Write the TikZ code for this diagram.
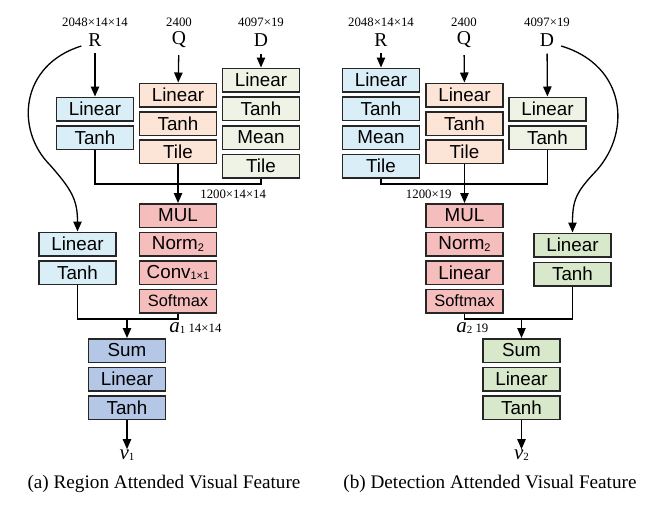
\documentclass[tikz,border=0pt]{standalone}
\usepackage{fontspec}
\setmainfont{Liberation Serif}
\setsansfont{Liberation Sans}
\usepackage{xcolor}
\usetikzlibrary{arrows.meta}

\definecolor{regblue}{HTML}{DAEEF7}
\definecolor{qpeach}{HTML}{FCE4D6}
\definecolor{detgray}{HTML}{EFF3E6}
\definecolor{attpink}{HTML}{F6BDBD}
\definecolor{outblue}{HTML}{B4C7E7}
\definecolor{detgreen}{HTML}{D8E9CB}

\newcommand{\lowsub}[1]{\raisebox{-0.6pt}{\fontsize{5.5}{6}\selectfont #1}}

\begin{document}
\begin{tikzpicture}[x=0.5pt, y=-0.5pt,
    box/.style={draw=black!85, line width=0.75pt, minimum width=38.5pt, minimum height=11.75pt,
      inner sep=0pt, font=\sffamily\fontsize{9.4}{10}\selectfont},
    smallbox/.style={box, font=\sffamily\fontsize{8.2}{9}\selectfont},
    arr/.style={-{Triangle[width=4.2pt,length=5pt]}, line width=0.65pt},
    link/.style={line width=0.65pt},
    dim/.style={inner sep=0pt, font=\fontsize{6.4}{7}\selectfont},
    var/.style={font=\fontsize{9.8}{10}\selectfont},
    outvar/.style={inner sep=0pt, font=\fontsize{10.5}{11}\selectfont\itshape},
    caption/.style={inner sep=0pt, font=\fontsize{9.6}{11}\selectfont}]

  \useasboundingbox (0,0) rectangle (661,509);

  % (a) inputs
  \node[dim] (lRdim) at (95,22) {2048×14×14};
  \node[dim] (lQdim) at (179,22) {2400};
  \node[dim] (lDdim) at (261,22) {4097×19};
  \node[var] (lR) at (95,40) {R};
  \node[var] (lQ) at (179,40) {Q};
  \node[var] (lD) at (261,40) {D};

  % (a) region branch
  \node[box, fill=regblue] (lRLin) at (95,109) {Linear};
  \node[box, fill=regblue] (lRTanh) at (95,137.5) {Tanh};

  % (a) question branch
  \node[box, fill=qpeach] (lQLin) at (178,95) {Linear};
  \node[box, fill=qpeach] (lQTanh) at (178,123.5) {Tanh};
  \node[box, fill=qpeach] (lQTile) at (178,151.5) {Tile};

  % (a) detection branch
  \node[box, fill=detgray] (lDLin) at (261,80) {Linear};
  \node[box, fill=detgray] (lDTanh) at (261,108.5) {Tanh};
  \node[box, fill=detgray] (lDMean) at (261,137.5) {Mean};
  \node[box, fill=detgray] (lDTile) at (261,166) {Tile};

  % (a) attention
  \node[box, fill=attpink] (lMul) at (178,215.5) {MUL};
  \node[box, fill=attpink] (lNorm) at (178,244) {Norm\lowsub{2}};
  \node[box, fill=attpink] (lConv) at (178,272.5) {Conv\lowsub{1×1}};
  \node[smallbox, fill=attpink] (lSoft) at (178,301) {Softmax};

  % (a) second region branch
  \node[box, fill=regblue] (lLin) at (77.5,244) {Linear};
  \node[box, fill=regblue] (lTanh) at (77.5,272.5) {Tanh};

  % (a) output
  \node[box, fill=outblue] (lSum) at (127,350.5) {Sum};
  \node[box, fill=outblue] (lOLin) at (127,379) {Linear};
  \node[box, fill=outblue] (lOTanh) at (127,407.5) {Tanh};
  \node[outvar] (lv) at (127,455) {v\lowsub{\upshape 1}};

  \node[dim, anchor=west] (lMuldim) at (200,194) {1200×14×14};
  \node[dim, anchor=west] (lAdim) at (169,328)
    {{\fontsize{10.5}{11}\selectfont\itshape a}\lowsub{1}\ 14×14};

  % (a) connectors
  \draw[arr] (lR) -- (lRLin);
  \draw[arr] (lQ) -- (lQLin);
  \draw[arr] (lD) -- (lDLin);
  \coordinate (lMerge) at (178,184);
  \draw[link] (lRTanh.south) |- (lMerge) -| (lDTile.south);
  \draw[arr] (lQTile) -- (lMul);
  \draw[link, arr] ([yshift=-3pt]lR.west) .. controls (20,65) and (15,130) .. (50,165)
    .. controls (72,190) and (77.5,200) .. (lLin.north);
  \coordinate (lJoin) at (127,319);
  \draw[link] (lTanh.south) |- (lJoin) -| (lSoft.south);
  \draw[arr] (lJoin) -- (lSum);
  \draw[arr] (lOTanh) -- (lv);

  \node[caption] (lcap) at (164,484) {(a) Region Attended Visual Feature};

  % (b) inputs
  \node[dim] (rRdim) at (381,22) {2048×14×14};
  \node[dim] (rQdim) at (464,22) {2400};
  \node[dim] (rDdim) at (547,22) {4097×19};
  \node[var] (rR) at (381,40) {R};
  \node[var] (rQ) at (464,40) {Q};
  \node[var] (rD) at (547,40) {D};

  % (b) region branch
  \node[box, fill=regblue] (rRLin) at (381,80) {Linear};
  \node[box, fill=regblue] (rRTanh) at (381,108.5) {Tanh};
  \node[box, fill=regblue] (rRMean) at (381,137.5) {Mean};
  \node[box, fill=regblue] (rRTile) at (381,166) {Tile};

  % (b) question branch
  \node[box, fill=qpeach] (rQLin) at (464.5,95) {Linear};
  \node[box, fill=qpeach] (rQTanh) at (464.5,123.5) {Tanh};
  \node[box, fill=qpeach] (rQTile) at (464.5,151.5) {Tile};

  % (b) detection branch
  \node[box, fill=detgray] (rDLin) at (547.5,109) {Linear};
  \node[box, fill=detgray] (rDTanh) at (547.5,137.5) {Tanh};

  % (b) attention
  \node[box, fill=attpink] (rMul) at (464.5,215.5) {MUL};
  \node[box, fill=attpink] (rNorm) at (464.5,244) {Norm\lowsub{2}};
  \node[box, fill=attpink] (rALin) at (464.5,272.5) {Linear};
  \node[smallbox, fill=attpink] (rSoft) at (464.5,301) {Softmax};

  % (b) second detection branch
  \node[box, fill=detgreen] (rLin) at (572.5,245) {Linear};
  \node[box, fill=detgreen] (rTanh) at (572.5,274) {Tanh};

  % (b) output
  \node[box, fill=detgreen] (rSum) at (521.5,350.5) {Sum};
  \node[box, fill=detgreen] (rOLin) at (521.5,379) {Linear};
  \node[box, fill=detgreen] (rOTanh) at (521.5,407.5) {Tanh};
  \node[outvar] (rv) at (521.5,455) {v\lowsub{\upshape 2}};

  \node[dim, anchor=east] (rMuldim) at (452,194) {1200×19};
  \node[dim, anchor=west] (rAdim) at (456,328)
    {{\fontsize{10.5}{11}\selectfont\itshape a}\lowsub{2}\ 19};

  % (b) connectors
  \draw[arr] (rR) -- (rRLin);
  \draw[arr] (rQ) -- (rQLin);
  \draw[arr] (rD) -- (rDLin);
  \coordinate (rMerge) at (464.5,184);
  \draw[link] (rRTile.south) |- (rMerge) -| (rDTanh.south);
  \draw[arr] (rQTile) -- (rMul);
  \draw[link, arr] ([yshift=-3pt]rD.east) .. controls (625,65) and (632,130) .. (597,170)
    .. controls (576,192) and (572.5,200) .. (rLin.north);
  \coordinate (rJoin) at (521.5,319);
  \draw[link] (rSoft.south) |- (rJoin) -| (rTanh.south);
  \draw[arr] (rJoin) -- (rSum);
  \draw[arr] (rOTanh) -- (rv);

  \node[caption] (rcap) at (490,484) {(b) Detection Attended Visual Feature};

\end{tikzpicture}
\end{document}
